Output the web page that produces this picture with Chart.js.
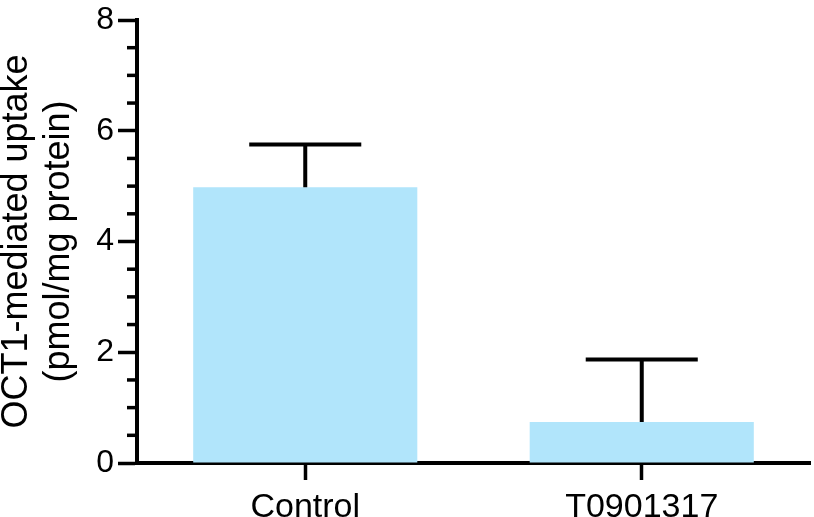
<!DOCTYPE html>
<html>
<head>
<meta charset="utf-8">
<script src="https://cdn.jsdelivr.net/npm/chart.js@4"></script>
<style>
    html, body { margin: 0; padding: 0; background: #fff; }
    #wrap { width: 814px; height: 517px; position: relative; }
</style>
</head>
<body>
<div id="wrap"><canvas id="chart"></canvas></div>
<script>
const categories = ['Control', 'T0901317'];
const meanUptake = [4.98, 0.74];
const semUptake = [0.77, 1.13];
const yTicks = [0, 2, 4, 6, 8];

const FONT = "'Liberation Sans', Arial, Helvetica, sans-serif";

// error bars (upper only, with cap)
const errorBars = {
    id: 'errorBars',
    afterDatasetsDraw(chart) {
        const ctx = chart.ctx;
        const y = chart.scales.y;
        const meta = chart.getDatasetMeta(0);
        ctx.save();
        ctx.strokeStyle = '#000';
        ctx.lineWidth = 4;
        meta.data.forEach((bar, i) => {
            const top = y.getPixelForValue(meanUptake[i] + semUptake[i]);
            const base = y.getPixelForValue(meanUptake[i]);
            const half = bar.width * 0.25;
            ctx.beginPath();
            ctx.moveTo(bar.x, base);
            ctx.lineTo(bar.x, top);
            ctx.moveTo(bar.x - half, top);
            ctx.lineTo(bar.x + half, top);
            ctx.stroke();
        });
        ctx.restore();
    }
};

// minor ticks on the y axis every 0.5
const minorTicks = {
    id: 'minorTicks',
    afterDraw(chart) {
        const ctx = chart.ctx;
        const y = chart.scales.y;
        const x0 = chart.chartArea.left;
        ctx.save();
        ctx.strokeStyle = '#000';
        ctx.lineWidth = 3.5;
        for (let v = y.min; v <= y.max; v += 0.5) {
            if (yTicks.includes(v)) continue;
            const py = y.getPixelForValue(v);
            ctx.beginPath();
            ctx.moveTo(x0 - 10, py);
            ctx.lineTo(x0, py);
            ctx.stroke();
        }
        ctx.restore();
    }
};

new Chart(document.getElementById('chart'), {
    type: 'bar',
    data: {
        labels: categories,
        datasets: [{
            data: meanUptake,
            backgroundColor: '#b1e5fb',
            borderWidth: 0,
            barPercentage: 0.666,
            categoryPercentage: 1
        }]
    },
    options: {
        responsive: true,
        maintainAspectRatio: false,
        animation: false,
        layout: { padding: { top: 16, right: 4, left: 0, bottom: 0 } },
        plugins: { legend: { display: false }, tooltip: { enabled: false } },
        scales: {
            x: {
                z: 1,
                offset: true,
                grid: { offset: false, drawOnChartArea: false, tickLength: 17, tickWidth: 3.5, tickColor: '#000' },
                border: { color: '#000', width: 4 },
                ticks: { color: '#000', padding: 11, font: { family: FONT, size: 34, lineHeight: 1 } },
                afterFit(scale) { scale.height = 54; }
            },
            y: {
                z: 1,
                min: 0,
                max: 8,
                afterBuildTicks(scale) { scale.ticks = yTicks.map(v => ({ value: v })); },
                grid: { drawOnChartArea: false, tickLength: 19, tickWidth: 3.5, tickColor: '#000' },
                border: { color: '#000', width: 4 },
                ticks: { color: '#000', padding: 4, font: { family: FONT, size: 32, lineHeight: 1 } },
                title: {
                    display: true,
                    text: ['OCT1-mediated uptake', '(pmol/mg protein)'],
                    color: '#000',
                    font: { family: FONT, size: 36, lineHeight: 1.15 },
                    padding: { top: -3.5, bottom: 0 }
                },
                afterFit(scale) { scale.width = 137; }
            }
        }
    },
    plugins: [errorBars, minorTicks]
});
</script>
</body>
</html>
